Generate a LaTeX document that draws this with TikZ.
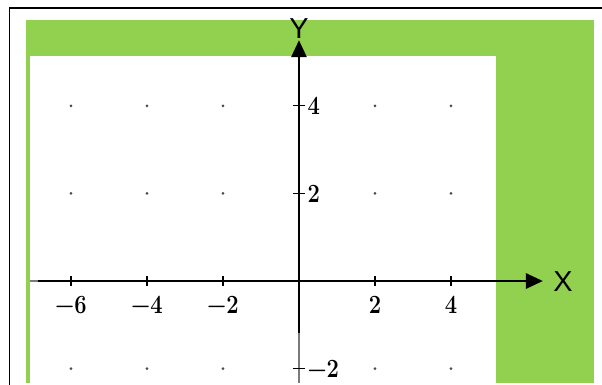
\documentclass[tikz,border=0pt]{standalone}
\usepackage{fontspec}
\usetikzlibrary{arrows.meta}
\newfontfamily\axisfont{Liberation Sans}
\definecolor{PlotGreen}{HTML}{92D050}
\definecolor{PlotDot}{HTML}{4A4A4A}
\definecolor{PlotThin}{HTML}{7A7A7A}
\tikzset{
  frame/.style={black,line width=1.6bp},
  axisline/.style={black,line width=2.8bp},
  axisarrow/.style={axisline,-{Triangle[length=17bp,width=15bp]}},
  axisthin/.style={PlotThin,line width=1.3bp},
  tickmark/.style={black,line width=1.2bp},
  ticklabel/.style={font=\fontsize{22}{26}\selectfont\bfseries,inner sep=0pt,
                    yscale=1.2,transform shape},
  axislabel/.style={font=\axisfont\fontsize{29}{32}\selectfont,inner sep=0pt},
}

\begin{document}
\begin{tikzpicture}[x=38bp,y=43.8bp]
  \useasboundingbox (-7.868,-2.374) rectangle (7.974,6.416);
  % background panels
  \fill[PlotGreen] (-7.184,-2.329) rectangle (7.763,5.959);
  \fill[white] (-7.079,-2.329) rectangle (5.184,5.137);
  \draw[frame] (-7.618,-2.374) -- (-7.618,6.233) -- (7.974,6.233);

  % grid dots
  \foreach \i in {-6,-4,-2,2,4}
    \foreach \j in {4,2,-2}
      \fill[PlotDot] (\i,\j) circle (1.5bp);

  % axes
  \coordinate (xstart) at (-7.079,0);
  \coordinate (xthick) at (-6.87,0);
  \coordinate (xend) at (6.42,0);
  \coordinate (ystart) at (0,-2.329);
  \coordinate (ythick) at (0,-1.187);
  \coordinate (yend) at (0,5.50);
  \draw[axisthin] (xstart) -- (xthick);
  \draw[axisarrow] (xthick) -- (xend);
  \draw[axisthin] (ystart) -- (ythick);
  \draw[axisarrow] (ythick) -- (yend);
  \node[axislabel] (xlab) at (6.947,-0.023) {X};
  \node[axislabel] (ylab) at (0,5.753) {Y};

  % ticks and numbers
  \foreach \i/\s [count=\n] in {-6/−6,-4/−4,-2/−2,2/2,4/4} {
    \draw[tickmark] (\i,-0.114) -- (\i,0.114);
    \node[ticklabel] (xt\n) at (\i,-0.548) {\s};
  }
  \foreach \j/\s [count=\n] in {4/4,2/2,-2/−2} {
    \draw[tickmark] (-0.16,\j) -- (0.16,\j);
    \node[ticklabel,anchor=west] (yt\n) at (0.22,\j) {\s};
  }
\end{tikzpicture}
\end{document}
